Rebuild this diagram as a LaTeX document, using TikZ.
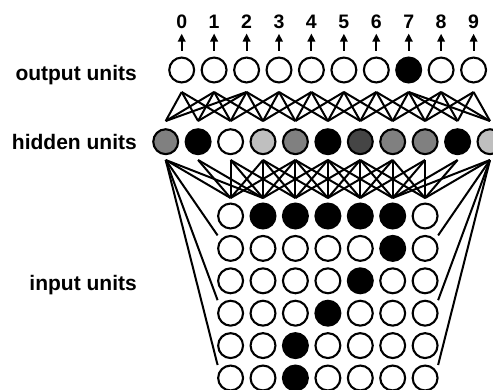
\documentclass[tikz,border=0pt]{standalone}
\usepackage{fontspec}
\setmainfont{Liberation Sans}
\usetikzlibrary{arrows.meta}
\definecolor{unitmid}{gray}{0.5}
\definecolor{unitlight}{gray}{0.75}
\definecolor{unitdark}{gray}{0.27}
\begin{document}
\begin{tikzpicture}[x=1pt, y=-1pt,
  unit/.style={circle, draw, line width=2.1pt, minimum size=24.9pt, inner sep=0pt, fill=white},
  link/.style={line width=2pt},
  arr/.style={line width=2pt, -{Triangle[width=7.5pt,length=8pt]}, shorten <=5.7pt, shorten >=5pt},
  digit/.style={anchor=base, inner sep=0pt, font=\fontsize{19.5}{22}\selectfont\bfseries},
  lbl/.style={anchor=base east, inner sep=0pt, font=\fontsize{21}{25}\selectfont\bfseries}]
\useasboundingbox (0,0) rectangle (493,389);
\coordinate (ob0) at (181.7,92);
\coordinate (ob1) at (214.1,92);
\coordinate (ob2) at (246.6,92);
\coordinate (ob3) at (279.0,92);
\coordinate (ob4) at (311.4,92);
\coordinate (ob5) at (343.9,92);
\coordinate (ob6) at (376.3,92);
\coordinate (ob7) at (408.7,92);
\coordinate (ob8) at (441.1,92);
\coordinate (ob9) at (473.6,92);
\coordinate (ht0) at (165.7,121);
\coordinate (ht1) at (198.1,121);
\coordinate (ht2) at (230.6,121);
\coordinate (ht3) at (263.0,121);
\coordinate (ht4) at (295.4,121);
\coordinate (ht5) at (327.9,121);
\coordinate (ht6) at (360.3,121);
\coordinate (ht7) at (392.7,121);
\coordinate (ht8) at (425.1,121);
\coordinate (ht9) at (457.6,121);
\coordinate (ht10) at (490.0,121);
\coordinate (hb0) at (165.7,160);
\coordinate (hb1) at (198.1,160);
\coordinate (hb2) at (230.6,160);
\coordinate (hb3) at (263.0,160);
\coordinate (hb4) at (295.4,160);
\coordinate (hb5) at (327.9,160);
\coordinate (hb6) at (360.3,160);
\coordinate (hb7) at (392.7,160);
\coordinate (hb8) at (425.1,160);
\coordinate (hb9) at (457.6,160);
\coordinate (hb10) at (490.0,160);
\coordinate (it1) at (230.6,198);
\coordinate (it2) at (263.0,198);
\coordinate (it3) at (295.4,198);
\coordinate (it4) at (327.9,198);
\coordinate (it5) at (360.3,198);
\coordinate (it6) at (392.7,198);
\coordinate (it7) at (425.1,198);
\coordinate (fl2) at (217.6,235.4);
\coordinate (fl4) at (217.6,300.2);
\coordinate (fl6) at (217.6,365.0);
\coordinate (fr2) at (438.1,235.4);
\coordinate (fr4) at (438.1,300.2);
\coordinate (fr6) at (438.1,365.0);
% output - hidden
\draw[link] (ob0) -- (ht0);
\draw[link] (ob0) -- (ht1);
\draw[link] (ob0) -- (ht2);
\draw[link] (ob1) -- (ht0);
\draw[link] (ob1) -- (ht1);
\draw[link] (ob1) -- (ht2);
\draw[link] (ob1) -- (ht3);
\draw[link] (ob2) -- (ht0);
\draw[link] (ob2) -- (ht1);
\draw[link] (ob2) -- (ht2);
\draw[link] (ob2) -- (ht3);
\draw[link] (ob2) -- (ht4);
\draw[link] (ob3) -- (ht2);
\draw[link] (ob3) -- (ht3);
\draw[link] (ob3) -- (ht4);
\draw[link] (ob3) -- (ht5);
\draw[link] (ob4) -- (ht3);
\draw[link] (ob4) -- (ht4);
\draw[link] (ob4) -- (ht5);
\draw[link] (ob4) -- (ht6);
\draw[link] (ob5) -- (ht4);
\draw[link] (ob5) -- (ht5);
\draw[link] (ob5) -- (ht6);
\draw[link] (ob5) -- (ht7);
\draw[link] (ob6) -- (ht5);
\draw[link] (ob6) -- (ht6);
\draw[link] (ob6) -- (ht7);
\draw[link] (ob6) -- (ht8);
\draw[link] (ob7) -- (ht6);
\draw[link] (ob7) -- (ht7);
\draw[link] (ob7) -- (ht8);
\draw[link] (ob7) -- (ht9);
\draw[link] (ob7) -- (ht10);
\draw[link] (ob8) -- (ht7);
\draw[link] (ob8) -- (ht8);
\draw[link] (ob8) -- (ht9);
\draw[link] (ob8) -- (ht10);
\draw[link] (ob9) -- (ht8);
\draw[link] (ob9) -- (ht9);
\draw[link] (ob9) -- (ht10);
% hidden - input
\draw[link] (hb0) -- (it1);
\draw[link] (hb0) -- (it2);
\draw[link] (hb1) -- (it1);
\draw[link] (hb1) -- (it2);
\draw[link] (hb2) -- (it1);
\draw[link] (hb2) -- (it2);
\draw[link] (hb2) -- (it3);
\draw[link] (hb3) -- (it1);
\draw[link] (hb3) -- (it2);
\draw[link] (hb3) -- (it3);
\draw[link] (hb3) -- (it4);
\draw[link] (hb4) -- (it1);
\draw[link] (hb4) -- (it2);
\draw[link] (hb4) -- (it3);
\draw[link] (hb4) -- (it4);
\draw[link] (hb4) -- (it5);
\draw[link] (hb5) -- (it2);
\draw[link] (hb5) -- (it3);
\draw[link] (hb5) -- (it4);
\draw[link] (hb5) -- (it5);
\draw[link] (hb5) -- (it6);
\draw[link] (hb6) -- (it3);
\draw[link] (hb6) -- (it4);
\draw[link] (hb6) -- (it5);
\draw[link] (hb6) -- (it6);
\draw[link] (hb6) -- (it7);
\draw[link] (hb7) -- (it4);
\draw[link] (hb7) -- (it5);
\draw[link] (hb7) -- (it6);
\draw[link] (hb7) -- (it7);
\draw[link] (hb8) -- (it5);
\draw[link] (hb8) -- (it6);
\draw[link] (hb8) -- (it7);
\draw[link] (hb9) -- (it6);
\draw[link] (hb9) -- (it7);
\draw[link] (hb10) -- (it6);
\draw[link] (hb10) -- (it7);
\draw[link] (hb0) -- (fl2);
\draw[link] (hb0) -- (fl4);
\draw[link] (hb0) -- (fl6);
\draw[link] (hb10) -- (fr2);
\draw[link] (hb10) -- (fr4);
\draw[link] (hb10) -- (fr6);
% output units
\node[unit] (o0) at (181.7,70) {};
\node[unit] (o1) at (214.1,70) {};
\node[unit] (o2) at (246.6,70) {};
\node[unit] (o3) at (279.0,70) {};
\node[unit] (o4) at (311.4,70) {};
\node[unit] (o5) at (343.9,70) {};
\node[unit] (o6) at (376.3,70) {};
\node[unit, fill=black] (o7) at (408.7,70) {};
\node[unit] (o8) at (441.1,70) {};
\node[unit] (o9) at (473.6,70) {};
% hidden units
\node[unit, fill=unitmid] (h0) at (165.7,141.7) {};
\node[unit, fill=black] (h1) at (198.1,141.7) {};
\node[unit] (h2) at (230.6,141.7) {};
\node[unit, fill=unitlight] (h3) at (263.0,141.7) {};
\node[unit, fill=unitmid] (h4) at (295.4,141.7) {};
\node[unit, fill=black] (h5) at (327.9,141.7) {};
\node[unit, fill=unitdark] (h6) at (360.3,141.7) {};
\node[unit, fill=unitmid] (h7) at (392.7,141.7) {};
\node[unit, fill=unitmid] (h8) at (425.1,141.7) {};
\node[unit, fill=black] (h9) at (457.6,141.7) {};
\node[unit, fill=unitlight] (h10) at (490.0,141.7) {};
% input units
\node[unit] (i11) at (230.6,216.0) {};
\node[unit, fill=black] (i12) at (263.0,216.0) {};
\node[unit, fill=black] (i13) at (295.4,216.0) {};
\node[unit, fill=black] (i14) at (327.9,216.0) {};
\node[unit, fill=black] (i15) at (360.3,216.0) {};
\node[unit, fill=black] (i16) at (392.7,216.0) {};
\node[unit] (i17) at (425.1,216.0) {};
\node[unit] (i21) at (230.6,248.4) {};
\node[unit] (i22) at (263.0,248.4) {};
\node[unit] (i23) at (295.4,248.4) {};
\node[unit] (i24) at (327.9,248.4) {};
\node[unit] (i25) at (360.3,248.4) {};
\node[unit, fill=black] (i26) at (392.7,248.4) {};
\node[unit] (i27) at (425.1,248.4) {};
\node[unit] (i31) at (230.6,280.8) {};
\node[unit] (i32) at (263.0,280.8) {};
\node[unit] (i33) at (295.4,280.8) {};
\node[unit] (i34) at (327.9,280.8) {};
\node[unit, fill=black] (i35) at (360.3,280.8) {};
\node[unit] (i36) at (392.7,280.8) {};
\node[unit] (i37) at (425.1,280.8) {};
\node[unit] (i41) at (230.6,313.2) {};
\node[unit] (i42) at (263.0,313.2) {};
\node[unit] (i43) at (295.4,313.2) {};
\node[unit, fill=black] (i44) at (327.9,313.2) {};
\node[unit] (i45) at (360.3,313.2) {};
\node[unit] (i46) at (392.7,313.2) {};
\node[unit] (i47) at (425.1,313.2) {};
\node[unit] (i51) at (230.6,345.6) {};
\node[unit] (i52) at (263.0,345.6) {};
\node[unit, fill=black] (i53) at (295.4,345.6) {};
\node[unit] (i54) at (327.9,345.6) {};
\node[unit] (i55) at (360.3,345.6) {};
\node[unit] (i56) at (392.7,345.6) {};
\node[unit] (i57) at (425.1,345.6) {};
\node[unit] (i61) at (230.6,378.0) {};
\node[unit] (i62) at (263.0,378.0) {};
\node[unit, fill=black] (i63) at (295.4,378.0) {};
\node[unit] (i64) at (327.9,378.0) {};
\node[unit] (i65) at (360.3,378.0) {};
\node[unit] (i66) at (392.7,378.0) {};
\node[unit] (i67) at (425.1,378.0) {};
% digits and arrows
\node[digit] (d0) at (181.7,28.3) {0};
\node[digit] (d1) at (214.1,28.3) {1};
\node[digit] (d2) at (246.6,28.3) {2};
\node[digit] (d3) at (279.0,28.3) {3};
\node[digit] (d4) at (311.4,28.3) {4};
\node[digit] (d5) at (343.9,28.3) {5};
\node[digit] (d6) at (376.3,28.3) {6};
\node[digit] (d7) at (408.7,28.3) {7};
\node[digit] (d8) at (441.1,28.3) {8};
\node[digit] (d9) at (473.6,28.3) {9};
\draw[arr] (o0) -- (d0);
\draw[arr] (o1) -- (d1);
\draw[arr] (o2) -- (d2);
\draw[arr] (o3) -- (d3);
\draw[arr] (o4) -- (d4);
\draw[arr] (o5) -- (d5);
\draw[arr] (o6) -- (d6);
\draw[arr] (o7) -- (d7);
\draw[arr] (o8) -- (d8);
\draw[arr] (o9) -- (d9);
% layer labels
\node[lbl] (outlbl) at (137,80) {output units};
\node[lbl] (hidlbl) at (137,149.3) {hidden units};
\node[lbl] (inlbl) at (137,290.7) {input units};
\end{tikzpicture}
\end{document}
